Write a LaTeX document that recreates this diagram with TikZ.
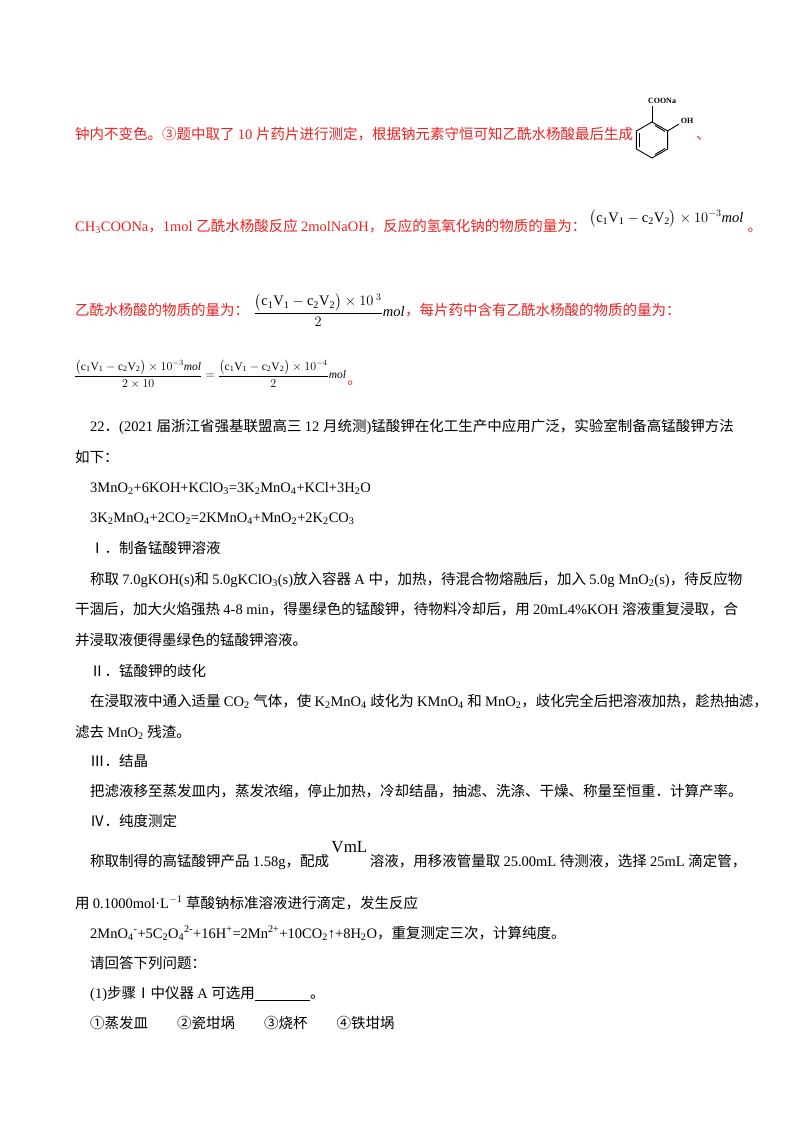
\documentclass[tikz,border=0pt]{standalone}
\usepackage{amsmath}
\usepackage{fontspec}
\setmainfont{Liberation Serif}
\newfontfamily\cjk{Noto Sans CJK SC}
\newfontfamily\tm{Liberation Serif}
\XeTeXinterchartokenstate=1
\newXeTeXintercharclass\cjkclass
\makeatletter
\count@="2150 \loop\ifnum\count@<"218F \XeTeXcharclass\count@=\cjkclass \advance\count@ 1 \repeat
\count@="2460 \loop\ifnum\count@<"24FF \XeTeXcharclass\count@=\cjkclass \advance\count@ 1 \repeat
\count@="3000 \loop\ifnum\count@<"303F \XeTeXcharclass\count@=\cjkclass \advance\count@ 1 \repeat
\count@="4E00 \loop\ifnum\count@<"9FFF \XeTeXcharclass\count@=\cjkclass \advance\count@ 1 \repeat
\count@="FF00 \loop\ifnum\count@<"FFEF \XeTeXcharclass\count@=\cjkclass \advance\count@ 1 \repeat
\makeatother
\XeTeXinterchartoks 0 \cjkclass = {\cjk}
\XeTeXinterchartoks 4095 \cjkclass = {\cjk}
\XeTeXinterchartoks \cjkclass 0 = {\tm}
\XeTeXinterchartoks 4095 0 = {\tm}
\newcommand{\sbs}[1]{\textsubscript{#1}}
\newcommand{\sps}[1]{\textsuperscript{#1}}
\definecolor{ansred}{RGB}{236,34,34}
\begin{document}
\begin{tikzpicture}[x=1pt,y=-1pt,
  txt/.style={anchor=base west,inner sep=0pt,font=\fontsize{14.5}{17}\selectfont},
  red/.style={txt,text=ansred},
  bond/.style={line width=0.9pt}]
\useasboundingbox[fill=white] (0,0) rectangle (800,1132);
% line 1
\node[red] (l1) at (75,139) {钟内不变色。③题中取了 10 片药片进行测定，根据钠元素守恒可知乙酰水杨酸最后生成};
\begin{scope}[shift={(15,0)}]
\draw[bond] (637,122) -- (652.6,131) -- (652.6,149) -- (637,158) -- (621.4,149) -- (621.4,131) -- cycle;
\draw[bond] (624.5,133) -- (624.5,147) (640,154.5) -- (650,148.5) (640,125.5) -- (650,131.5);
\node[inner sep=0pt,font=\sffamily\bfseries\fontsize{8}{9}\selectfont] (coona) at (647,101) {COONa};
\node[inner sep=0pt,font=\sffamily\bfseries\fontsize{8}{9}\selectfont] (oh) at (672,121) {OH};
\draw[bond] (637,122) -- (637,106);
\draw[bond] (652.6,131) -- (664,124);
\node[red] (l1b) at (681,139) {、};
\end{scope}
% line 2
\node[red] (l2) at (75,231) {CH\sbs{3}COONa，1mol 乙酰水杨酸反应 2molNaOH，反应的氢氧化钠的物质的量为：};
\node[txt,anchor=base west] (f1) at ([xshift=3pt,yshift=9pt]l2.base east) {$\bigl(\mathrm{c_1V_1-c_2V_2}\bigr)\times10^{-3}\mathit{mol}$};
\node[red] (l2b) at ([xshift=4pt,yshift=-9pt]f1.base east) {。};
% line 3
\node[red] (l3) at (75,315) {乙酰水杨酸的物质的量为：};
\node[txt,anchor=west] (f2) at ([xshift=4pt,yshift=5pt]l3.base east) {$\dfrac{\bigl(\mathrm{c_1V_1-c_2V_2}\bigr)\times10^{\;3}}{2}\mathit{mol}$};
\node[red] (l3b) at (l3.base -| f2.east) {，每片药中含有乙酰水杨酸的物质的量为：};
% line 4
\node[txt,anchor=west,font=\fontsize{11.5}{13}\selectfont] (f3) at (74,374) {$\dfrac{\bigl(\mathrm{c_1V_1-c_2V_2}\bigr)\times10^{-3}\mathit{mol}}{2\times10}=\dfrac{\bigl(\mathrm{c_1V_1-c_2V_2}\bigr)\times10^{-4}}{2}\mathit{mol}$};
\node[red] (l4b) at ([xshift=1pt]f3.east |- 0,384) {。};
% body
\node[txt] (a1) at (90,431) {22．(2021 届浙江省强基联盟高三 12 月统测)锰酸钾在化工生产中应用广泛，实验室制备高锰酸钾方法};
\node[txt] (a2) at (75,462) {如下：};
\node[txt] (a3) at (90,492) {3MnO\sbs{2}+6KOH+KClO\sbs{3}=3K\sbs{2}MnO\sbs{4}+KCl+3H\sbs{2}O};
\node[txt] (a4) at (90,522) {3K\sbs{2}MnO\sbs{4}+2CO\sbs{2}=2KMnO\sbs{4}+MnO\sbs{2}+2K\sbs{2}CO\sbs{3}};
\node[txt] (a5) at (90,553) {Ⅰ．制备锰酸钾溶液};
\node[txt] (a6) at (90,584) {称取 7.0gKOH(s)和 5.0gKClO\sbs{3}(s)放入容器 A 中，加热，待混合物熔融后，加入 5.0g MnO\sbs{2}(s)，待反应物};
\node[txt] (a7) at (75,614) {干涸后，加大火焰强热 4-8 min，得墨绿色的锰酸钾，待物料冷却后，用 20mL4\%KOH 溶液重复浸取，合};
\node[txt] (a8) at (75,645) {并浸取液便得墨绿色的锰酸钾溶液。};
\node[txt] (a9) at (90,676) {Ⅱ．锰酸钾的歧化};
\node[txt] (a10) at (90,706) {在浸取液中通入适量 CO\sbs{2} 气体，使 K\sbs{2}MnO\sbs{4} 歧化为 KMnO\sbs{4} 和 MnO\sbs{2}，歧化完全后把溶液加热，趁热抽滤，};
\node[txt] (a11) at (75,737) {滤去 MnO\sbs{2} 残渣。};
\node[txt] (a12) at (90,766) {Ⅲ．结晶};
\node[txt] (a13) at (90,796) {把滤液移至蒸发皿内，蒸发浓缩，停止加热，冷却结晶，抽滤、洗涤、干燥、称量至恒重．计算产率。};
\node[txt] (a14) at (90,826) {Ⅳ．纯度测定};
\node[txt] (a15) at (90,866) {称取制得的高锰酸钾产品 1.58g，配成};
\node[txt,font=\fontsize{17}{19}\selectfont] (vml) at ([xshift=2pt,yshift=14pt]a15.base east) {VmL};
\node[txt] (a15b) at ([xshift=2pt,yshift=-14pt]vml.base east) {溶液，用移液管量取 25.00mL 待测液，选择 25mL 滴定管，};
\node[txt] (a16) at (75,908) {用 0.1000mol·L\sps{$-$1} 草酸钠标准溶液进行滴定，发生反应};
\node[txt] (a17) at (90,938) {2MnO\sbs{4}\sps{-}+5C\sbs{2}O\sbs{4}\sps{2-}+16H\sps{+}=2Mn\sps{2+}+10CO\sbs{2}↑+8H\sbs{2}O，重复测定三次，计算纯度。};
\node[txt] (a18) at (90,968) {请回答下列问题：};
\node[txt] (a19) at (90,998) {(1)步骤Ⅰ中仪器 A 可选用\underline{\hspace{3.8em}}。};
\node[txt] (a20) at (90,1028) {①蒸发皿\hspace{2em}②瓷坩埚\hspace{2em}③烧杯\hspace{2em}④铁坩埚};
\end{tikzpicture}
\end{document}
